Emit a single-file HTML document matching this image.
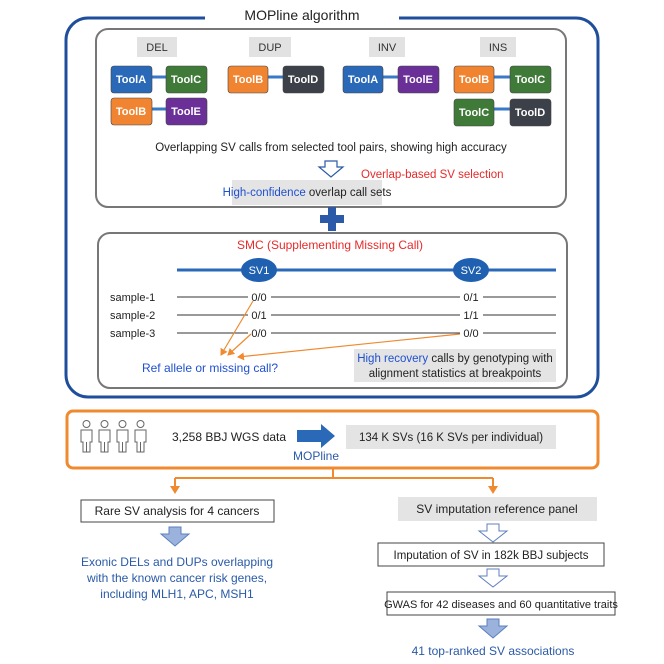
<!DOCTYPE html>
<html><head><meta charset="utf-8"><style>
html,body{margin:0;padding:0;background:#fff;}
svg{display:block;font-family:"Liberation Sans",Arial,sans-serif;}
</style></head><body>
<svg width="664" height="664" viewBox="0 0 664 664" xmlns="http://www.w3.org/2000/svg">
<defs>
<marker id="oa" markerWidth="8" markerHeight="8" refX="6" refY="4" orient="auto" markerUnits="userSpaceOnUse"><path d="M0,0 L7,4 L0,8 z" fill="#f08a30"/></marker>
<g id="person" fill="none" stroke="#666" stroke-width="1">
<circle cx="6.5" cy="4" r="3.5"/>
<path d="M1,10 h11 v12 h-2 v10 h-7 v-10 h-2 z M6.5,22 v10"/>
</g>
</defs>
<rect x="66" y="18" width="532" height="379" rx="22" fill="none" stroke="#1f4e9c" stroke-width="3"/>
<rect x="205" y="6" width="194" height="20" fill="#fff"/>
<text x="302" y="20" font-size="14" text-anchor="middle" fill="#222">MOPline algorithm</text>
<rect x="96" y="29" width="470" height="178" rx="12" fill="none" stroke="#777" stroke-width="2"/>
<g font-size="11" text-anchor="middle" fill="#333">
<rect x="137" y="37" width="40" height="20" fill="#e2e2e2"/><text x="157" y="51">DEL</text>
<rect x="249" y="37" width="42" height="20" fill="#e2e2e2"/><text x="270" y="51">DUP</text>
<rect x="369" y="37" width="36" height="20" fill="#e2e2e2"/><text x="387" y="51">INV</text>
<rect x="480" y="37" width="36" height="20" fill="#e2e2e2"/><text x="498" y="51">INS</text>
</g>
<g stroke="#3a78c8" stroke-width="3">
<line x1="150" y1="77" x2="166" y2="77"/><line x1="150" y1="109" x2="166" y2="109"/>
<line x1="266" y1="77" x2="284" y2="77"/><line x1="380" y1="77" x2="398" y2="77"/>
<line x1="492" y1="77" x2="510" y2="77"/><line x1="492" y1="109" x2="510" y2="109"/>
</g>
<g font-size="11" font-weight="bold" fill="#fff" text-anchor="middle" stroke="#444" stroke-width="0.6">
<rect x="111" y="66" width="41" height="27" rx="3" fill="#2a68b8"/>
<rect x="166" y="66" width="41" height="27" rx="3" fill="#3f7a38"/>
<rect x="111" y="98" width="41" height="27" rx="3" fill="#f08430"/>
<rect x="166" y="98" width="41" height="27" rx="3" fill="#6a3098"/>
<rect x="228" y="66" width="40" height="27" rx="3" fill="#f08430"/>
<rect x="283" y="66" width="41" height="27" rx="3" fill="#3c4048"/>
<rect x="343" y="66" width="40" height="27" rx="3" fill="#2a68b8"/>
<rect x="398" y="66" width="41" height="27" rx="3" fill="#6a3098"/>
<rect x="454" y="66" width="40" height="27" rx="3" fill="#f08430"/>
<rect x="510" y="66" width="41" height="27" rx="3" fill="#3f7a38"/>
<rect x="454" y="99" width="40" height="27" rx="3" fill="#3f7a38"/>
<rect x="510" y="99" width="41" height="27" rx="3" fill="#3c4048"/>
</g>
<g font-size="11" font-weight="bold" fill="#fff" text-anchor="middle">
<text x="131" y="83">ToolA</text><text x="186" y="83">ToolC</text>
<text x="131" y="115">ToolB</text><text x="186" y="115">ToolE</text>
<text x="248" y="83">ToolB</text><text x="303" y="83">ToolD</text>
<text x="363" y="83">ToolA</text><text x="418" y="83">ToolE</text>
<text x="474" y="83">ToolB</text><text x="530" y="83">ToolC</text>
<text x="474" y="116">ToolC</text><text x="530" y="116">ToolD</text>
</g>
<text x="331" y="151" font-size="11.5" text-anchor="middle" fill="#222">Overlapping SV calls from selected tool pairs, showing high accuracy</text>
<path d="M325,161 h12 v6 h6 l-12,10 l-12,-10 h6 z" fill="#fff" stroke="#2a5aa8" stroke-width="1.2"/>
<text x="361" y="178" font-size="11.5" fill="#e52b2b">Overlap-based SV selection</text>
<rect x="232" y="180" width="150" height="25" fill="#e4e4e4"/>
<text x="307" y="196" font-size="11.5" fill="#222" text-anchor="middle"><tspan fill="#2050d0">High-confidence</tspan> overlap call sets</text>
<path d="M328,207 h8 v8 h8 v8 h-8 v8 h-8 v-8 h-8 v-8 h8 z" fill="#2a5aa8"/>
<rect x="98" y="233" width="469" height="155" rx="12" fill="none" stroke="#777" stroke-width="2"/>
<text x="330" y="249" font-size="12" text-anchor="middle" fill="#e52b2b">SMC (Supplementing Missing Call)</text>
<line x1="177" y1="270" x2="556" y2="270" stroke="#2a68b8" stroke-width="3"/>
<ellipse cx="259" cy="270" rx="18" ry="12" fill="#2060b0"/>
<ellipse cx="471" cy="270" rx="18" ry="12" fill="#2060b0"/>
<text x="259" y="274" font-size="11" fill="#fff" text-anchor="middle">SV1</text>
<text x="471" y="274" font-size="11" fill="#fff" text-anchor="middle">SV2</text>
<g font-size="11" fill="#222">
<text x="110" y="301">sample-1</text><text x="110" y="319">sample-2</text><text x="110" y="337">sample-3</text>
</g>
<g stroke="#333" stroke-width="1">
<line x1="177" y1="297" x2="248" y2="297"/><line x1="271" y1="297" x2="460" y2="297"/><line x1="483" y1="297" x2="556" y2="297"/>
<line x1="177" y1="315" x2="248" y2="315"/><line x1="271" y1="315" x2="460" y2="315"/><line x1="483" y1="315" x2="556" y2="315"/>
<line x1="177" y1="333" x2="248" y2="333"/><line x1="271" y1="333" x2="460" y2="333"/><line x1="483" y1="333" x2="556" y2="333"/>
</g>
<g font-size="11" fill="#222" text-anchor="middle">
<text x="259" y="301">0/0</text><text x="471" y="301">0/1</text>
<text x="259" y="319">0/1</text><text x="471" y="319">1/1</text>
<text x="259" y="337">0/0</text><text x="471" y="337">0/0</text>
</g>
<g stroke="#f08a30" stroke-width="1.2" fill="none">
<line x1="253" y1="301" x2="221" y2="355" marker-end="url(#oa)"/>
<line x1="251" y1="334" x2="228" y2="355" marker-end="url(#oa)"/>
<line x1="460" y1="334" x2="238" y2="357" marker-end="url(#oa)"/>
</g>
<text x="210" y="372" font-size="12" text-anchor="middle" fill="#2050d0">Ref allele or missing call?</text>
<rect x="354" y="349" width="202" height="33" fill="#e4e4e4"/>
<text x="455" y="362" font-size="11.5" text-anchor="middle" fill="#222"><tspan fill="#2050d0">High recovery</tspan> calls by genotyping with</text>
<text x="455" y="377" font-size="11.5" text-anchor="middle" fill="#222">alignment statistics at breakpoints</text>
<rect x="67" y="411" width="531" height="57" rx="6" fill="none" stroke="#f08a30" stroke-width="3"/>
<use href="#person" x="80" y="420"/><use href="#person" x="98" y="420"/><use href="#person" x="116" y="420"/><use href="#person" x="134" y="420"/>
<text x="172" y="441" font-size="12" fill="#222">3,258 BBJ WGS data</text>
<path d="M297,430 h24 v-6 l14,12 l-14,12 v-6 h-24 z" fill="#2a68b8"/>
<text x="316" y="460" font-size="12" text-anchor="middle" fill="#2a5aa8">MOPline</text>
<rect x="346" y="425" width="210" height="24" fill="#e4e4e4"/>
<text x="451" y="441" font-size="11.5" text-anchor="middle" fill="#222">134 K SVs (16 K SVs per individual)</text>
<g stroke="#f08a30" stroke-width="2" fill="none">
<line x1="333" y1="468" x2="333" y2="478"/><line x1="175" y1="478" x2="493" y2="478"/>
<line x1="175" y1="478" x2="175" y2="487"/><line x1="493" y1="478" x2="493" y2="487"/>
</g>
<path d="M170,486 l5,8 l5,-8 z M488,486 l5,8 l5,-8 z" fill="#f08a30"/>
<rect x="81" y="500" width="193" height="22" fill="#fff" stroke="#444" stroke-width="1"/>
<text x="177" y="515" font-size="12" text-anchor="middle" fill="#222">Rare SV analysis for 4 cancers</text>
<path d="M169,527 h12 v7 h8 l-14,12 l-14,-12 h8 z" fill="#9bb3dc" stroke="#5c7fbf" stroke-width="1"/>
<g font-size="12" text-anchor="middle" fill="#2a5aa8">
<text x="177" y="566">Exonic DELs and DUPs overlapping</text>
<text x="177" y="582">with the known cancer risk genes,</text>
<text x="177" y="598">including MLH1, APC, MSH1</text>
</g>
<rect x="398" y="497" width="199" height="24" fill="#e4e4e4"/>
<text x="497" y="513" font-size="12" text-anchor="middle" fill="#222">SV imputation reference panel</text>
<path d="M487,524 h12 v7 h8 l-14,11 l-14,-11 h8 z" fill="#fff" stroke="#5c7fbf" stroke-width="1"/>
<rect x="378" y="543" width="226" height="23" fill="#fff" stroke="#444" stroke-width="1"/>
<text x="491" y="559" font-size="11.5" text-anchor="middle" fill="#222">Imputation of SV in 182k BBJ subjects</text>
<path d="M487,569 h12 v7 h8 l-14,11 l-14,-11 h8 z" fill="#fff" stroke="#5c7fbf" stroke-width="1"/>
<rect x="387" y="592" width="228" height="23" fill="#fff" stroke="#444" stroke-width="1"/>
<text x="501" y="608" font-size="11" text-anchor="middle" fill="#222">GWAS for 42 diseases and 60 quantitative traits</text>
<path d="M487,619 h12 v7 h8 l-14,12 l-14,-12 h8 z" fill="#9bb3dc" stroke="#5c7fbf" stroke-width="1"/>
<text x="493" y="655" font-size="12" text-anchor="middle" fill="#2a5aa8">41 top-ranked SV associations</text>
</svg>
</body></html>
